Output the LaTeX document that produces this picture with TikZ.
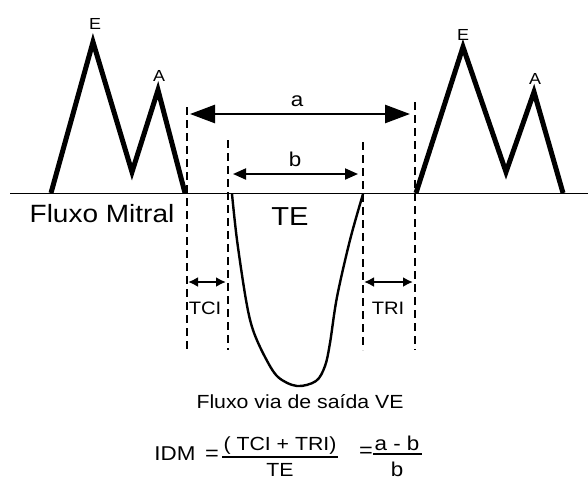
\documentclass[tikz,border=0pt]{standalone}
\usepackage{fontspec}
\setmainfont{Liberation Sans}[FakeStretch=1.12]
\usetikzlibrary{arrows.meta}
\tikzset{
  wave/.style={line width=5pt, line join=miter, miter limit=20},
  base/.style={line width=1.5pt},
  guide/.style={line width=1.2pt, dash pattern=on 8pt off 5pt},
  bigarrow/.style={line width=2.6pt, {Triangle[length=25pt,width=18pt]}-{Triangle[length=25pt,width=18pt]}},
  midarrow/.style={line width=2pt, {Triangle[length=13pt,width=11pt]}-{Triangle[length=13pt,width=11pt]}},
  smallarrow/.style={line width=2.4pt, {Latex[length=10pt,width=10pt]}-{Latex[length=10pt,width=10pt]}},
  lbl/.style={inner sep=0pt, font=\fontsize{#1}{#1}\selectfont},
}
\begin{document}
\begin{tikzpicture}[x=1pt,y=-1pt]
\useasboundingbox (0,0) rectangle (588,480);
% baseline
\draw[base] (10,193.5) -- (588,193.5);
% mitral waves
\draw[wave] (51,193) -- (93,42) -- (132,172) -- (158,90) -- (185,193);
\draw[wave] (416,193) -- (463,47) -- (506,172) -- (534,92) -- (563,193);
\node[lbl=16] (e1) at (95,24) {E};
\node[lbl=16] (a1) at (159,76) {A};
\node[lbl=16] (e2) at (463,35) {E};
\node[lbl=16] (a2) at (535,79) {A};
% dashed guides
\coordinate (g1t) at (187,107); \coordinate (g1b) at (187,350);
\coordinate (g2t) at (228,140); \coordinate (g2b) at (228,350);
\coordinate (g3t) at (363,142); \coordinate (g3b) at (363,350);
\coordinate (g4t) at (415,102); \coordinate (g4b) at (415,350);
\draw[guide] (g1t) -- (g1b);
\draw[guide] (g2t) -- (g2b);
\draw[guide] (g3t) -- (g3b);
\draw[guide] (g4t) -- (g4b);
% a and b
\coordinate (al) at (190,114); \coordinate (ar) at (410,114);
\draw[bigarrow] (al) -- (ar);
\node[lbl=20] (la) at (297,101) {a};
\coordinate (bl) at (233,174); \coordinate (br) at (358,174);
\draw[midarrow] (bl) -- (br);
\node[lbl=20] (lb) at (295,159) {b};
% LV outflow curve
\draw[line width=2.4pt, line join=round]
  plot[smooth, tension=0.55] coordinates {(232,194) (237,240) (246,300) (253,330) (265,357) (278,377) (297,386) (316,381) (325,366) (330,343) (337,297) (350,240) (363,194)};
\node[lbl=26] (te) at (290,217) {TE};
\node[lbl=25] (fm) at (102,214) {Fluxo Mitral};
% TCI / TRI
\coordinate (tcil) at (188,282); \coordinate (tcir) at (226,282);
\draw[smallarrow] (tcil) -- (tcir);
\coordinate (tril) at (364,282); \coordinate (trir) at (413,282);
\draw[smallarrow] (tril) -- (trir);
\node[lbl=18] (tci) at (205,308) {TCI};
\node[lbl=18] (tri) at (388,308) {TRI};
% captions
\node[lbl=19] (fv) at (300,402) {Fluxo via de saída VE};
\node[lbl=20] (idm) at (175,454) {IDM};
\node[lbl=21] (eq1) at (212,455) {=};
\node[lbl=19] (num1) at (280,446) {( TCI + TRI)};
\draw[line width=1.2pt] (222,457) -- (338,457);
\node[lbl=19] (den1) at (280,470) {TE};
\node[lbl=21] (eq2) at (366,452) {=};
\node[lbl=20] (num2) at (397,443) {a - b};
\draw[line width=1.2pt] (373,454) -- (422,454);
\node[lbl=20] (den2) at (397,469) {b};
\end{tikzpicture}
\end{document}
